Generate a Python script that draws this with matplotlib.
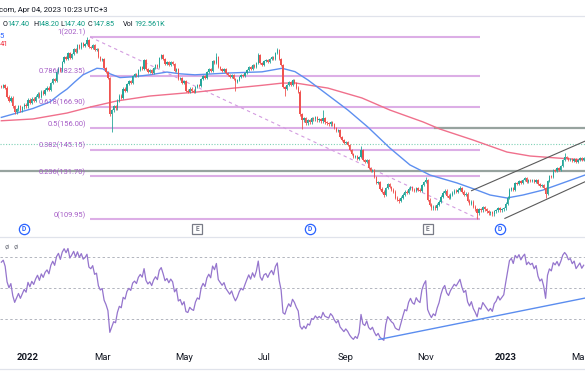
import numpy as np
import pandas as pd
import matplotlib
matplotlib.use("Agg")
import matplotlib.pyplot as plt
from matplotlib.lines import Line2D

# ---------------- data ----------------
start_date = "2021-12-13"
holidays = ["2021-12-24", "2022-01-17", "2022-02-21", "2022-04-15", "2022-05-30",
            "2022-06-20", "2022-07-04", "2022-09-05", "2022-11-24", "2022-12-26",
            "2023-01-02", "2023-01-16", "2023-02-20"]

closes = [
    177, 178, 176.5, 172, 170, 171.5, 167, 164, 165.5, 167,
    165, 166.5, 168, 167, 170.5, 169, 171, 170, 172, 173.5,
    172, 174.5, 173.5, 175.5, 176.5, 175.5, 179, 181, 180, 184.5,
    186.5, 185, 189.5, 192, 191, 194, 191.5, 193.5, 196, 194.5,
    198, 196.5, 199, 197.5, 198.5, 200.5, 197, 196.5, 198, 195.5,
    196, 192, 190.5, 191, 186.5, 184.5, 181.5, 163, 165, 167,
    166, 170, 172.5, 171.5, 176, 175, 178.5, 180, 179, 182.5,
    183.5, 182.5, 185.5, 187, 186, 190.5, 186, 184.5, 185.5, 184,
    186.5, 188, 187, 191.5, 193, 191, 188.5, 189.5, 188, 189.5,
    188.6, 185, 186, 181, 181.5, 179, 180, 175, 174.5, 176,
    175, 174.5, 176.8, 178, 177.5, 181, 182.5, 181.5, 184.5, 186,
    185, 190, 189, 192, 187, 186, 185, 186, 184, 183,
    182, 183, 181, 179.5, 180.5, 182, 183, 182.5, 184, 185.5,
    187, 186, 188, 187, 189, 193, 189, 188, 190, 190.5,
    189.5, 191, 192, 191, 194, 195.5, 191, 188, 177, 176,
    178, 179.5, 178, 180.5, 179, 176.5, 174.5, 163, 160, 161,
    158.5, 160, 159, 161, 160.5, 161.5, 160, 160.5, 159.5, 161,
    159, 158.5, 158, 159, 158, 156, 154.5, 155, 151.5, 150,
    148.5, 149, 147.5, 145, 143, 141.5, 142, 140.5, 141.5, 145,
    140, 139, 140, 136, 134.5, 135, 131.5, 128.5, 129, 125.5,
    124, 122.5, 126, 128, 126.5, 125, 124, 121, 120, 119.5,
    121, 122.5, 124, 123.5, 125.5, 126.5, 125, 124.5, 126, 125,
    124.5, 127.5, 129, 130, 120, 117.5, 115.5, 116.5, 115.5, 117.5,
    119, 121.5, 123.5, 124.5, 122, 121, 122.5, 123.5, 124.5, 124,
    125, 126, 124, 122.5, 123, 119.5, 118, 119, 116.5, 115,
    113, 115, 114.5, 116, 115, 114, 113, 113.5, 112.5, 114,
    114.5, 115.5, 114.5, 115, 115.5, 118, 121, 125, 126, 125,
    128.5, 128, 129.5, 128.5, 130, 131, 129, 130, 129.5, 130,
    129, 130, 128, 127, 127.5, 126, 123, 129.5, 132, 131.5,
    135, 134.5, 136, 135, 137, 140, 141.5, 141, 140, 140.5,
    139.5, 140.5, 139, 140, 141, 140, 141,
]
first_open = 177.5
wick_highs = {45: 202.1, 113: 194.0, 135: 194.0, 145: 196.5, 169: 165.0,
              189: 147.0, 223: 131.4, 241: 127.0, 275: 131.4, 296: 143.5}
wick_lows = {58: 154.0, 123: 175.0, 149: 172.3, 158: 155.6, 201: 121.3,
             209: 118.3, 250: 109.95, 286: 120.8}

ma50_idx = [0, 16.6, 25.5, 30.8, 34.5, 38.7, 42.9, 50.2, 53.4, 57.1, 62.3, 69.2, 78.1,
            87.0, 93.9, 101.7, 119.1, 137.0, 147.5, 154.3, 161.1, 171.6, 182.1,
            192.6, 204.2, 214.7, 225.2, 239.4, 249.9, 256.8, 265.7, 274.1, 284.6,
            295.1, 306.7]
ma50_val = [161.5, 166.0, 169.3, 173.3, 175.8, 179.5, 183.0, 186.3, 186.0, 183.5, 181.6,
            182.0, 183.0, 184.4, 183.5, 183.0, 183.9, 184.5, 186.3, 184.6, 180.4,
            172.8, 165.2, 156.6, 146.0, 137.5, 132.4, 128.4, 124.8, 122.3, 120.8,
            122.3, 124.8, 128.4, 132.4]
ma200_idx = [0, 16.6, 34.5, 46.6, 60.7, 78.1, 93.9, 101.7, 119.1, 137.0, 147.5, 154.3,
             171.6, 189.5, 204.2, 221.6, 230.5, 247.8, 265.7, 277.8, 291.9, 306.7]
ma200_val = [159.8, 160.7, 163.7, 166.7, 169.8, 172.3, 173.6, 174.2, 176.0, 177.7,
             178.8, 178.9, 176.3, 171.3, 165.2, 159.2, 155.6, 150.1, 144.0, 142.0,
             141.0, 140.0]

fib_labels = ["1(202.1)", "0.786(182.35)", "0.618(166.90)", "0.5(156.00)",
              "0.382(145.15)", "0.236(131.70)", "0(109.95)"]
fib_prices = [202.1, 182.35, 166.90, 156.00, 145.15, 131.70, 109.95]
fib_start_idx, fib_end_idx = 46.6, 251.5

support_full = 134.4
support_partial = 156.0
support_partial_start = 227.8
last_close = 147.85

channel_upper = ([247.1, 306.7], [124.5, 149.5])
channel_lower = ([264.6, 306.7], [110.5, 129.0])
rsi_trend = ([198.4, 306.7], [16.8, 43.5])
rsi_levels = [70, 50, 30]
rsi_period = 14
rsi_seed_gain, rsi_seed_loss = 1.3, 0.65

dividend_idx = [12, 162, 262]
earnings_idx = [103, 224]

month_labels = ["2022", "Mar", "May", "Jul", "Sep", "Nov", "2023", "Mar"]
month_starts = ["2022-01-01", "2022-03-01", "2022-05-01", "2022-07-01",
                "2022-09-01", "2022-11-01", "2023-01-01", "2023-03-01"]
header_text = "com, Apr 04, 2023 10:23 UTC+3"
ohlc_keys = ["O", "H", "L", "C", "Vol"]
ohlc_vals = ["147.40", "148.20", "147.40", "147.85", "192.561K"]

# ---------------- derived ----------------
n = len(closes)
dates = pd.bdate_range(start_date, periods=n, freq="C", holidays=holidays)
idx = np.arange(n)
c = np.array(closes, dtype=float)
o = np.concatenate([[first_open], c[:-1]])
hi = np.maximum(o, c) + 0.6
lo = np.minimum(o, c) - 0.6
for k, v in wick_highs.items():
    hi[k] = v
for k, v in wick_lows.items():
    lo[k] = v

# RSI (Wilder)
ag, al = rsi_seed_gain, rsi_seed_loss
rsi = [100 - 100 / (1 + ag / al)]
for i in range(1, n):
    d = c[i] - c[i - 1]
    ag = (ag * (rsi_period - 1) + max(d, 0)) / rsi_period
    al = (al * (rsi_period - 1) + max(-d, 0)) / rsi_period
    rsi.append(100 - 100 / (1 + ag / al))
rsi = np.array(rsi)

# ---------------- figure ----------------
W, H = 585, 390
fig = plt.figure(figsize=(W / 100, H / 100), dpi=100)
fig.patch.set_facecolor("white")
plt.rcParams["font.family"] = ["Roboto", "DejaVu Sans"]

def fx(x):
    return x / W

def fy(y):
    return 1 - y / H

XL = (-0.71, 306.7)
ax = fig.add_axes([0, fy(237), 1, (237 - 16) / H])
ax.set_xlim(*XL)
ax.set_ylim(101.1, 212.7)
ax.axis("off")

rx = fig.add_axes([0, fy(350), 1, (350 - 237) / H])
rx.set_xlim(*XL)
rx.set_ylim(10, 82.9)
rx.axis("off")

UP, DN = "#26a69a", "#ef5350"
FIB_LINE, FIB_TXT = "#dcaee6", "#a55cc6"

# fib lines
for lab, p in zip(fib_labels, fib_prices):
    ax.plot([fib_start_idx, fib_end_idx], [p, p], color=FIB_LINE, lw=1.5,
            solid_capstyle="butt", zorder=1)
    ax.annotate(lab, (fib_start_idx, p), xytext=(-4, 4.2), textcoords="offset pixels",
                ha="right", va="center", fontsize=5.4, color=FIB_TXT, zorder=6)
ax.plot([fib_start_idx, fib_end_idx], [fib_prices[0], fib_prices[-1]],
        color="#d39be0", lw=0.8, ls=(0, (3, 3)), zorder=1)

# horizontal lines
ax.axhline(support_full, color="#97a39f", lw=1.6, zorder=1)
ax.plot([support_partial_start, XL[1]], [support_partial] * 2, color="#97a39f",
        lw=1.6, zorder=1)
ax.axhline(last_close, color="#7fd1b6", lw=0.8, ls=(0, (1, 1.5)), zorder=1)

# MAs
ax.plot(ma200_idx, ma200_val, color="#f0708c", lw=1.0, zorder=2)
ax.plot(ma50_idx, ma50_val, color="#5d8ff0", lw=1.0, zorder=2)

# candles
up = c >= o
cols = np.where(up, UP, DN)
ax.vlines(idx, lo, hi, colors=cols, lw=0.6, zorder=3)
body_h = np.maximum(np.abs(c - o), 0.3)
ax.bar(idx, body_h, bottom=np.minimum(o, c), width=0.7, color=cols, lw=0, zorder=4)

# channel
ax.plot(*channel_upper, color="#5a5a5a", lw=0.8, zorder=5)
ax.plot(*channel_lower, color="#5a5a5a", lw=0.8, zorder=5)

# events
ey = 0.036
for d in dividend_idx:
    ax.plot(d, ey, marker="o", ms=7.4, mfc="white", mec="#2962ff", mew=0.9,
            transform=ax.get_xaxis_transform(), clip_on=False, zorder=7)
    ax.text(d, ey, "D", transform=ax.get_xaxis_transform(), ha="center", va="center",
            fontsize=4.8, color="#2962ff", fontweight="bold", zorder=8)
for e in earnings_idx:
    ax.plot(e, ey, marker="s", ms=7.2, mfc="white", mec="#787b86", mew=0.9,
            transform=ax.get_xaxis_transform(), clip_on=False, zorder=7)
    ax.text(e, ey, "E", transform=ax.get_xaxis_transform(), ha="center", va="center",
            fontsize=4.8, color="#787b86", fontweight="bold", zorder=8)

# RSI
for lv in rsi_levels:
    rx.axhline(lv, color="#b2b5be", lw=0.7, ls=(0, (2.5, 2.5)))
rx.plot(idx, rsi, color="#9575cd", lw=0.9)
rx.plot(*rsi_trend, color="#5b8def", lw=1.0)
rx.text(0.008, 0.91, "ø", transform=rx.transAxes, fontsize=5.5, color="#787b86",
        ha="left", va="center")
rx.text(0.023, 0.91, "ø", transform=rx.transAxes, fontsize=5.5, color="#787b86",
        ha="left", va="center")

# x labels
for lab, ms in zip(month_labels, month_starts):
    pos = int(np.searchsorted(dates, pd.Timestamp(ms)))
    bold = lab.isdigit()
    rx.text(pos, (350 - 358) / 113, lab, transform=rx.get_xaxis_transform(),
            ha="center", va="center", fontsize=6.8, color="#131722",
            fontweight="bold" if bold else "normal")

# separators
for yy in (16, 237, 369):
    fig.add_artist(Line2D([0, 1], [fy(yy), fy(yy)], color="#e0e3eb", lw=0.9,
                          transform=fig.transFigure))

# header texts
fig.text(fx(-1), fy(10), header_text, fontsize=5.6, color="#131722", ha="left",
         va="center")
xs_k = [3, 33, 60.5, 88, 123]
xs_v = [7.5, 37.5, 63.5, 92, 134]
for k, v, xk, xv in zip(ohlc_keys, ohlc_vals, xs_k, xs_v):
    fig.text(fx(xk), fy(25), k, fontsize=5.2, color="#131722", ha="left", va="center")
    fig.text(fx(xv), fy(25), v, fontsize=5.2, color="#089981", ha="left", va="center")
fig.text(fx(-0.5), fy(35.5), "5", fontsize=5.6, color="#2962ff", ha="left", va="center")
fig.text(fx(-0.5), fy(44.5), "41", fontsize=5.6, color="#f23645", ha="left", va="center")

fig.savefig("out.png", dpi=100, facecolor="white")
